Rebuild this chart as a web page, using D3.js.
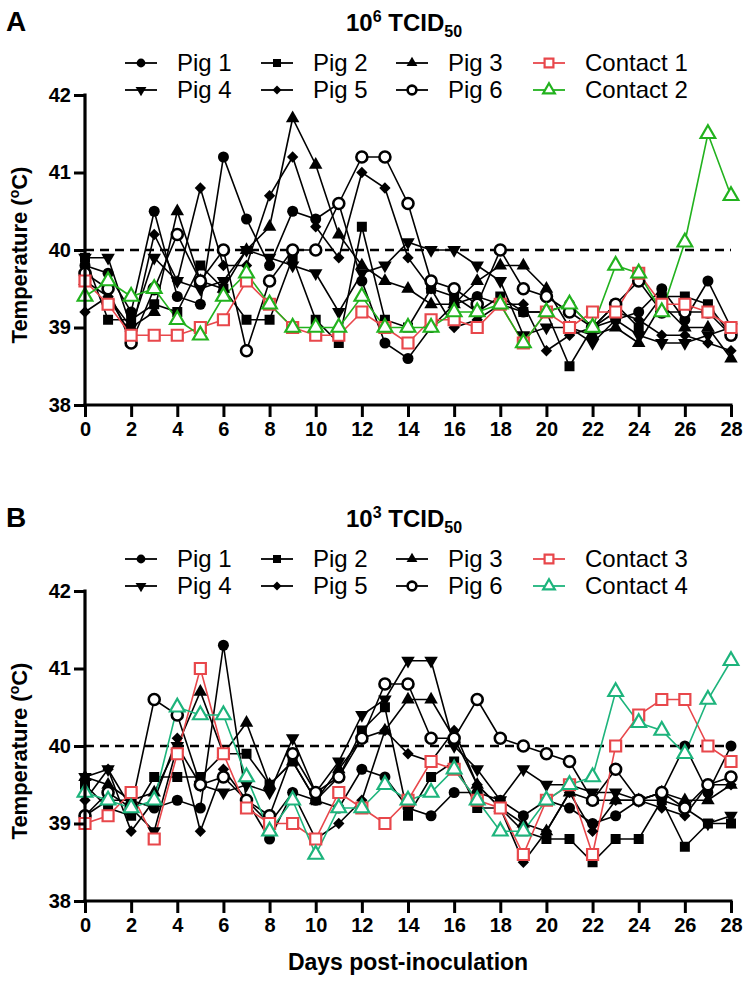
<!DOCTYPE html>
<html><head><meta charset="utf-8">
<script src="https://cdn.jsdelivr.net/npm/d3@7"></script>
<style>body{margin:0;background:#fff} svg{display:block;font-family:"Liberation Sans",Arial,sans-serif}</style>
</head><body>
<svg id="chart" width="750" height="988"></svg>
<script>
const days = d3.range(0, 29);
const xTicks = d3.range(0, 29, 2);
const yTicks = [38, 39, 40, 41, 42];
const feverThreshold = 40;

// Panel A: 10^6 TCID50
const A_pig1 = [39.8,39.7,39.2,40.5,39.4,39.3,41.2,40.4,39.8,40.5,40.4,40.6,39.6,38.8,38.6,39.0,39.3,39.4,39.3,39.2,39.2,39.3,39.0,39.1,39.2,39.5,39.1,39.6,39.0];
const A_pig2 = [39.9,39.1,39.1,39.3,39.2,39.8,39.5,39.1,39.1,39.9,39.1,38.8,40.3,39.1,39.0,39.5,39.4,39.2,39.4,39.2,39.2,38.5,39.0,39.3,39.0,39.4,39.4,39.3,38.9];
const A_pig3 = [39.6,39.4,39.0,39.2,40.5,39.6,39.5,40.0,40.3,41.7,41.1,40.2,39.8,39.6,39.5,39.3,39.3,39.6,39.8,39.8,39.5,39.0,38.9,39.0,38.8,39.3,39.0,39.0,38.6];
const A_pig4 = [39.9,39.9,39.0,39.9,39.6,39.5,39.6,40.0,39.9,39.8,39.7,39.2,39.7,39.8,40.1,40.0,40.0,39.8,39.6,38.9,39.0,39.0,38.8,39.1,38.9,38.8,38.8,38.9,39.0];
const A_pig5 = [39.2,39.4,38.9,40.2,39.6,40.8,39.8,39.8,40.7,41.2,40.3,39.9,41.0,40.8,39.9,39.5,39.0,39.1,39.3,39.3,38.7,38.9,39.0,39.2,39.1,38.9,38.9,38.8,38.7];
const A_pig6 = [39.7,39.5,38.8,39.5,40.2,39.6,40.0,38.7,39.6,40.0,40.0,40.6,41.2,41.2,40.6,39.6,39.5,39.3,40.0,39.5,39.4,39.2,39.0,39.3,39.6,39.2,39.2,39.2,38.9];
const A_contact1 = [39.6,39.3,38.9,38.9,38.9,39.0,39.1,39.6,39.3,39.0,38.9,38.9,39.2,39.0,38.8,39.1,39.1,39.0,39.3,38.8,39.2,39.0,39.2,39.2,39.7,39.3,39.3,39.2,39.0];
const A_contact2 = [39.4,39.6,39.4,39.5,39.1,38.9,39.4,39.7,39.3,39.0,39.0,39.0,39.4,39.0,39.0,39.0,39.2,39.2,39.3,38.8,39.2,39.3,39.0,39.8,39.7,39.2,40.1,41.5,40.7];

// Panel B: 10^3 TCID50
const B_pig1 = [39.1,39.3,39.3,39.2,39.3,39.2,41.3,39.3,38.8,39.4,39.3,39.2,39.7,39.6,39.2,39.1,39.4,39.4,39.3,39.1,39.3,39.2,39.0,39.1,39.3,39.4,40.0,39.4,40.0];
const B_pig2 = [39.5,39.2,39.1,39.6,39.6,39.6,39.9,39.9,39.5,39.8,39.3,39.6,40.2,40.5,39.1,39.6,39.8,39.2,39.2,38.9,38.8,38.8,38.5,38.8,38.8,39.3,38.7,39.0,39.0];
const B_pig3 = [39.6,39.5,39.3,39.4,40.0,40.7,39.9,40.3,39.5,39.8,39.3,39.7,40.1,40.2,40.6,40.6,40.1,39.5,39.2,39.0,38.9,39.4,39.3,39.3,39.3,39.4,39.3,39.3,39.5];
const B_pig4 = [39.6,39.7,39.2,38.9,40.0,39.5,39.4,39.5,39.4,40.1,39.4,39.8,40.4,40.6,41.1,41.1,40.0,39.7,39.3,39.7,39.5,39.5,39.4,39.4,39.3,39.3,39.2,39.0,39.1];
const B_pig5 = [39.3,39.7,38.9,39.3,40.1,38.9,39.7,39.3,39.0,39.4,38.8,39.0,39.3,40.2,39.9,39.8,40.2,39.5,39.2,38.5,38.9,39.4,38.9,39.3,39.3,39.2,39.1,39.5,39.5];
const B_pig6 = [39.1,39.4,39.2,40.6,40.4,39.5,39.6,39.3,39.1,39.9,39.4,39.6,40.1,40.8,40.8,40.1,40.1,40.6,40.1,40.0,39.9,39.8,39.3,39.7,39.3,39.4,39.2,39.5,39.6];
const B_contact3 = [39.0,39.1,39.4,38.8,39.9,41.0,39.9,39.2,39.0,39.0,38.8,39.4,39.2,39.0,39.3,39.8,39.7,39.3,39.2,38.6,39.3,39.5,38.6,40.0,40.4,40.6,40.6,40.0,39.8];
const B_contact4 = [39.4,39.3,39.2,39.3,40.5,40.4,40.4,39.6,38.9,39.3,38.6,39.2,39.2,39.5,39.3,39.4,39.7,39.3,38.9,38.9,39.3,39.5,39.6,40.7,40.3,40.2,39.9,40.6,41.1];

const pigNames = ["Pig 1","Pig 2","Pig 3","Pig 4","Pig 5","Pig 6"];
const markerKinds = ["circle","square","triangle","invtriangle","diamond","opencircle"];

const svg = d3.select("#chart");
const left = 85, right = 731;
const x = d3.scaleLinear().domain([0, 28]).range([left, right]);

function symbolPath(kind, s) {
  const sym = d3.symbol();
  if (kind === "circle" || kind === "opencircle") return sym.type(d3.symbolCircle).size(Math.PI * (s/2) * (s/2))();
  if (kind === "square" || kind === "opensquare" || kind === "diamond") return sym.type(d3.symbolSquare).size(s * s)();
  return sym.type(d3.symbolTriangle).size(s * s * 0.55)();
}
function drawMarker(g, kind, cx, cy, s, color) {
  const p = g.append("path").attr("d", symbolPath(kind, s));
  let rot = 0;
  if (kind === "diamond") rot = 45;
  if (kind === "invtriangle") rot = 180;
  p.attr("transform", `translate(${cx},${cy}) rotate(${rot})`);
  if (kind === "opencircle" || kind === "opensquare" || kind === "opentriangle") {
    p.attr("fill", "#fff").attr("stroke", color).attr("stroke-width", kind === "opencircle" ? 2.6 : 2.2);
  } else {
    p.attr("fill", color);
  }
  return p;
}
const markerSize = {circle: 11, square: 10, triangle: 12, invtriangle: 12, diamond: 8, opencircle: 11, opensquare: 11, opentriangle: 13};

function drawPanel(top, letter, exp, seriesList, contactColors, contactNames) {
  const y = d3.scaleLinear().domain([38, 42]).range([top + 310, top]);
  const g = svg.append("g");

  g.append("text").attr("x", 6).attr("y", top - 64).attr("font-size", 28).attr("font-weight", "bold").text(letter);
  const t = g.append("text").attr("x", 404).attr("y", top - 64).attr("text-anchor", "middle")
    .attr("font-size", 24).attr("font-weight", "bold");
  t.append("tspan").text("10");
  t.append("tspan").attr("dy", -9).attr("font-size", 16).text(exp);
  t.append("tspan").attr("dy", 9).text(" TCID");
  t.append("tspan").attr("dy", 6).attr("font-size", 16).text("50");

  const legendItems = [
    {name: pigNames[0], kind: markerKinds[0], color: "#000"},
    {name: pigNames[1], kind: markerKinds[1], color: "#000"},
    {name: pigNames[2], kind: markerKinds[2], color: "#000"},
    {name: contactNames[0], kind: "opensquare", color: contactColors[0]},
    {name: pigNames[3], kind: markerKinds[3], color: "#000"},
    {name: pigNames[4], kind: markerKinds[4], color: "#000"},
    {name: pigNames[5], kind: markerKinds[5], color: "#000"},
    {name: contactNames[1], kind: "opentriangle", color: contactColors[1]},
  ];
  const colX = [141, 277, 412, 549];
  const rowY = [top - 32, top - 5];
  legendItems.forEach((it, i) => {
    const cx = colX[i % 4], cy = rowY[Math.floor(i / 4)];
    g.append("line").attr("x1", cx - 16).attr("x2", cx + 16).attr("y1", cy).attr("y2", cy)
      .attr("stroke", it.color).attr("stroke-width", 1.8);
    drawMarker(g, it.kind, cx, cy, markerSize[it.kind] * 0.8, it.color);
    g.append("text").attr("x", cx + 36).attr("y", cy + 8).attr("font-size", 24).text(it.name);
  });

  g.append("line").attr("x1", x(0)).attr("x2", x(28)).attr("y1", y(feverThreshold)).attr("y2", y(feverThreshold))
    .attr("stroke", "#000").attr("stroke-width", 2.6).attr("stroke-dasharray", "9,6");

  const line = d3.line().x((d, i) => x(days[i])).y(d => y(d));
  seriesList.forEach(s => {
    g.append("path").attr("d", line(s.values)).attr("fill", "none")
      .attr("stroke", s.color).attr("stroke-width", 1.6);
  });
  seriesList.forEach(s => {
    s.values.forEach((v, i) => drawMarker(g, s.kind, x(days[i]), y(v), markerSize[s.kind], s.color));
  });

  const yAxis = d3.axisLeft(y).tickValues(yTicks).tickSize(11).tickPadding(3).tickFormat(d3.format("d"));
  const ya = g.append("g").attr("transform", `translate(${left},0)`).call(yAxis);
  const xAxis = d3.axisBottom(x).tickValues(xTicks).tickSize(12).tickPadding(5).tickFormat(d3.format("d"));
  const xa = g.append("g").attr("transform", `translate(0,${top + 310})`).call(xAxis);
  [ya, xa].forEach(a => {
    a.select(".domain").remove();
    a.selectAll(".tick line").attr("stroke", "#000").attr("stroke-width", 3);
    a.selectAll(".tick text").attr("fill", "#000").attr("font-size", 20).attr("font-weight", "bold")
      .attr("font-family", "'Liberation Sans', Arial, sans-serif");
  });
  g.append("line").attr("x1", left).attr("x2", left).attr("y1", top - 1.5).attr("y2", top + 310 + 1.5)
    .attr("stroke", "#000").attr("stroke-width", 3.2);
  g.append("line").attr("x1", left - 1.5).attr("x2", right + 1.5).attr("y1", top + 310).attr("y2", top + 310)
    .attr("stroke", "#000").attr("stroke-width", 3.2);

  const yt = g.append("text").attr("transform", `translate(27,${top + 160}) rotate(-90)`).attr("text-anchor", "middle")
    .attr("font-size", 22).attr("font-weight", "bold");
  yt.append("tspan").text("Temperature (");
  yt.append("tspan").attr("dy", -8).attr("font-size", 14).text("o");
  yt.append("tspan").attr("dy", 8).text("C)");
}

const pigSeries = (arrs) => arrs.map((v, i) => ({values: v, kind: markerKinds[i], color: "#000"}));

drawPanel(95, "A", "6",
  [...pigSeries([A_pig1, A_pig2, A_pig3, A_pig4, A_pig5, A_pig6]),
   {values: A_contact1, kind: "opensquare", color: "#E8474B"},
   {values: A_contact2, kind: "opentriangle", color: "#22B21E"}],
  ["#E8474B", "#22B21E"], ["Contact 1", "Contact 2"]);

drawPanel(591, "B", "3",
  [...pigSeries([B_pig1, B_pig2, B_pig3, B_pig4, B_pig5, B_pig6]),
   {values: B_contact3, kind: "opensquare", color: "#E8474B"},
   {values: B_contact4, kind: "opentriangle", color: "#1DB47C"}],
  ["#E8474B", "#1DB47C"], ["Contact 3", "Contact 4"]);

svg.append("text").attr("x", 408).attr("y", 970).attr("text-anchor", "middle")
  .attr("font-size", 23).attr("font-weight", "bold").text("Days post-inoculation");
</script>
</body></html>
